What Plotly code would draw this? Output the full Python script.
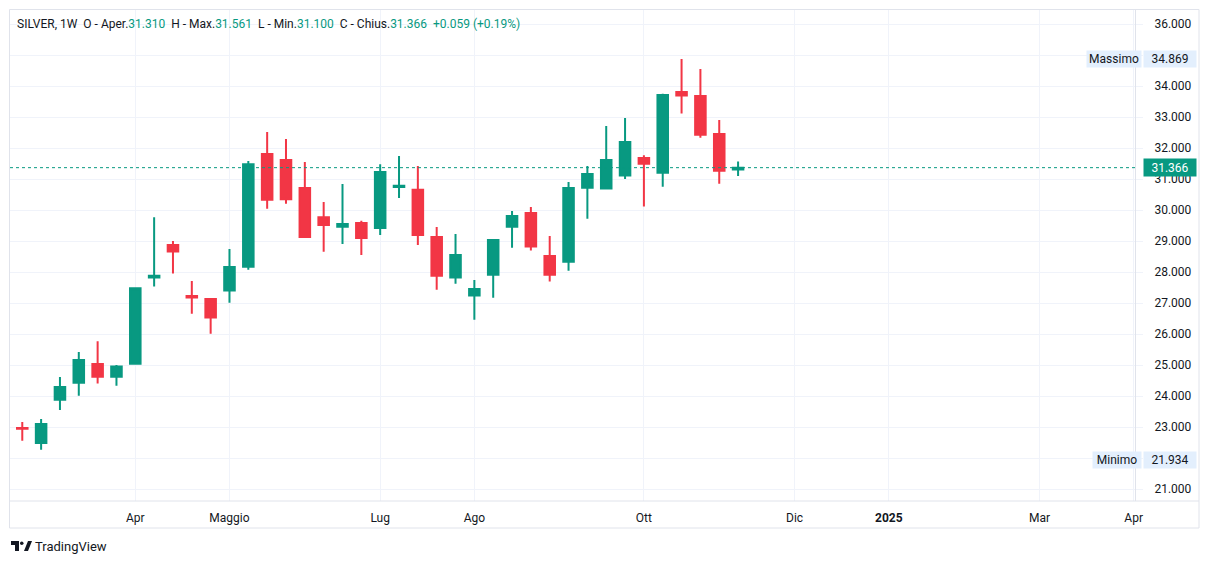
import pandas as pd
import plotly.graph_objects as go

# weekly candles (Monday of each week)
weeks = pd.date_range("2024-02-12", periods=40, freq="7D")
opens = [22.61, 22.97, 22.48, 23.88, 24.43, 25.03, 24.62, 25.04, 27.82, 28.87,
         27.23, 27.13, 27.40, 28.17, 31.81, 31.61, 30.71, 29.77, 29.46, 29.58,
         29.42, 30.74, 30.65, 29.13, 27.82, 27.24, 27.91, 29.46, 29.90, 28.52,
         28.33, 30.72, 30.69, 31.11, 31.68, 31.20, 33.81, 33.68, 32.45, 31.310]
highs = [23.45, 23.16, 23.26, 24.61, 25.42, 25.77, 25.00, 27.50, 29.77, 29.00,
         27.71, 27.15, 28.74, 31.58, 32.52, 32.29, 31.55, 30.26, 30.84, 29.65,
         31.48, 31.74, 31.42, 29.45, 29.23, 27.74, 29.05, 29.97, 30.10, 29.16,
         30.90, 31.42, 32.71, 32.97, 31.77, 33.75, 34.869, 34.55, 32.90, 31.561]
lows = [21.934, 22.56, 22.27, 23.55, 24.01, 24.40, 24.33, 25.03, 27.53, 27.95,
        26.65, 26.01, 27.01, 28.07, 30.04, 30.20, 29.10, 28.65, 28.90, 28.55,
        29.19, 30.39, 28.87, 27.43, 27.62, 26.46, 27.17, 28.78, 28.69, 27.69,
        28.04, 29.72, 30.66, 31.00, 30.11, 30.75, 33.11, 32.33, 30.85, 31.100]
closes = [23.39, 22.94, 23.10, 24.29, 25.16, 24.62, 24.95, 27.48, 27.88, 28.66,
          27.18, 26.53, 28.16, 31.48, 30.33, 30.35, 29.13, 29.52, 29.55, 29.10,
          31.23, 30.78, 29.19, 27.88, 28.55, 27.45, 29.03, 29.81, 28.82, 27.91,
          30.71, 31.16, 31.61, 32.19, 31.49, 33.71, 33.69, 32.43, 31.27, 31.366]

tick_dates = ["2024-04-01", "2024-05-06", "2024-07-01", "2024-08-05", "2024-10-07",
              "2024-12-02", "2025-01-06", "2025-03-03", "2025-04-07"]
tick_names = ["Apr", "Maggio", "Lug", "Ago", "Ott", "Dic", "<b>2025</b>", "Mar", "Apr"]

price_ticks = list(range(21, 37))
price_labels = ["" if v in (22, 35) else f"{v:.3f}" for v in price_ticks]

last_price = 31.366
max_price = 34.869
min_price = 21.934

UP = "#089981"
DOWN = "#f23645"
GRID = "#f0f3fa"
BORDER = "#e0e3eb"
TXT = "#131722"
LABEL_BG = "#e3effd"

# plot area in pixels: x 10..1135, y 10..501
def px(x):
    return (x - 10) / 1125

def py(y):
    return (501 - y) / 491

fig = go.Figure()
fig.add_trace(go.Candlestick(
    x=weeks, open=opens, high=highs, low=lows, close=closes,
    increasing=dict(line=dict(color=UP, width=2), fillcolor=UP),
    decreasing=dict(line=dict(color=DOWN, width=2), fillcolor=DOWN),
    whiskerwidth=0, showlegend=False, hoverinfo="skip",
))

# last price dotted line
fig.add_shape(type="line", xref="paper", yref="y", x0=0, x1=1, y0=last_price, y1=last_price,
              line=dict(color=UP, width=1, dash="dot"))

# frame
fig.add_shape(type="rect", xref="paper", yref="paper", x0=px(9.5), x1=px(1199), y0=py(528), y1=py(9.5),
              line=dict(color=BORDER, width=1))
fig.add_shape(type="line", xref="paper", yref="paper", x0=px(9.5), x1=px(1199), y0=0, y1=0,
              line=dict(color=BORDER, width=1))

# price axis labels
fig.add_annotation(xref="paper", yref="y", x=px(1143), y=last_price, xanchor="left", yanchor="middle",
                   text="31.366", showarrow=False, bgcolor=UP, font=dict(color="white", size=12),
                   width=50, height=15, borderpad=1)
for name, val in [("Massimo", max_price), ("Minimo", min_price)]:
    fig.add_annotation(xref="paper", yref="y", x=px(1143), y=val, xanchor="left", yanchor="middle",
                       text=f"{val:.3f}", showarrow=False, bgcolor=LABEL_BG, font=dict(color=TXT, size=12),
                       width=50, height=14, borderpad=1)
    fig.add_annotation(xref="paper", yref="y", x=px(1142), y=val, xanchor="right", yanchor="middle",
                       text=name, showarrow=False, bgcolor=LABEL_BG, font=dict(color=TXT, size=12),
                       width=52 if name == "Massimo" else 46, height=14, borderpad=1)

# legend line at the top
g = f"<span style='color:{UP}'>"
header = (f"SILVER, 1W  O - Aper.{g}31.310</span>  H - Max.{g}31.561</span>  "
          f"L - Min.{g}31.100</span>  C - Chius.{g}31.366</span>  {g}+0.059 (+0.19%)</span>")
fig.add_annotation(xref="paper", yref="paper", x=px(15), y=py(24), xanchor="left", yanchor="middle",
                   text=header, showarrow=False, font=dict(color=TXT, size=12))

# TradingView mark
fig.add_shape(type="rect", xref="paper", yref="paper", x0=px(11), x1=px(19), y0=py(545), y1=py(541),
              fillcolor=TXT, line_width=0)
fig.add_shape(type="rect", xref="paper", yref="paper", x0=px(15), x1=px(19), y0=py(551), y1=py(541),
              fillcolor=TXT, line_width=0)
fig.add_shape(type="circle", xref="paper", yref="paper", x0=px(20), x1=px(23.5), y0=py(545), y1=py(541.5),
              fillcolor=TXT, line_width=0)
fig.add_shape(type="path", xref="paper", yref="paper",
              path=f"M {px(24)},{py(551)} L {px(28)},{py(541)} L {px(32)},{py(541)} L {px(28)},{py(551)} Z",
              fillcolor=TXT, line_width=0)
fig.add_annotation(xref="paper", yref="paper", x=px(33), y=py(546), xanchor="left", yanchor="middle",
                   text="TradingView", showarrow=False, font=dict(color=TXT, size=13))

fig.update_layout(
    width=1209, height=564,
    margin=dict(l=10, r=74, t=10, b=63),
    paper_bgcolor="white", plot_bgcolor="white",
    font=dict(family="Roboto, sans-serif", color=TXT, size=12),
    boxgap=0.2,
)
fig.update_xaxes(
    type="date", range=["2024-02-14 10:30", "2025-04-07 12:00"],
    rangeslider_visible=False,
    tickvals=tick_dates, ticktext=tick_names, tickangle=0,
    showgrid=True, gridcolor=GRID, gridwidth=1,
    showline=False, zeroline=False, ticks="", ticklabelstandoff=8,
    tickfont=dict(size=12, color=TXT),
)
fig.update_yaxes(
    side="right", range=[20.613, 36.452],
    tickvals=price_ticks, ticktext=price_labels,
    showgrid=True, gridcolor=GRID, gridwidth=1,
    showline=True, linecolor=BORDER, linewidth=1, mirror=False,
    ticks="outside", ticklen=7, tickcolor=GRID, zeroline=False,
    ticklabelstandoff=9,
    tickfont=dict(size=12, color=TXT),
)

# page body has a default 8px margin; remove it so the figure sits at the corner
fig.write_html("out.html", config={"displayModeBar": False},
               post_script="document.body.style.margin='0';")
